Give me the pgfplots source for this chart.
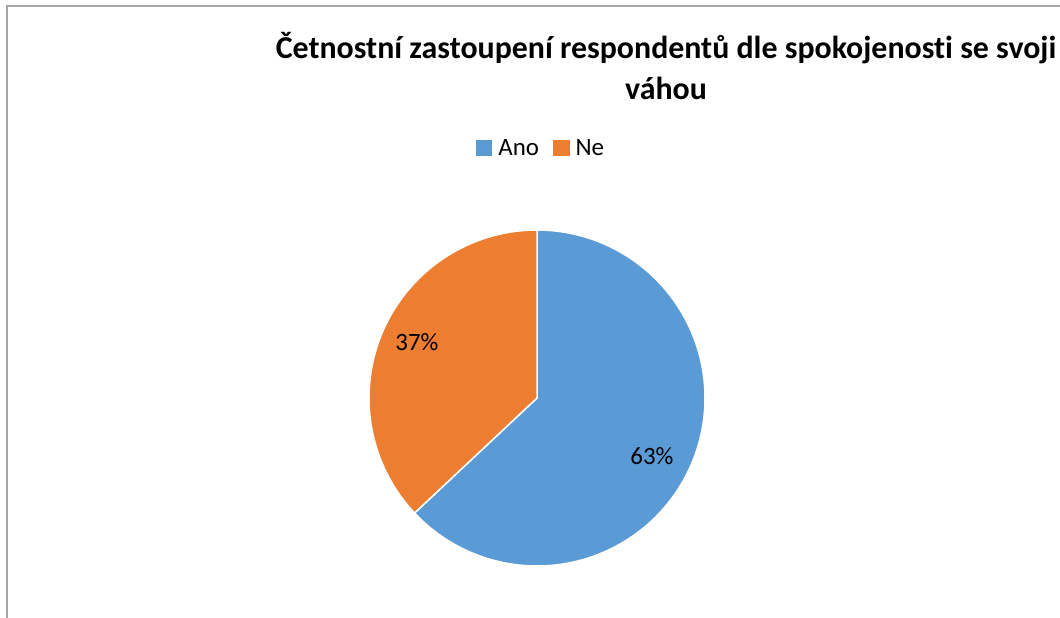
\documentclass[border=0pt]{standalone}
\usepackage{fontspec}
\setmainfont{Carlito}[Ligatures=NoCommon]
\usepackage{pgfplots}
\pgfplotsset{compat=1.18}
\definecolor{pieblue}{HTML}{5B9BD5}
\definecolor{pieorange}{HTML}{ED7D31}
\definecolor{framegray}{HTML}{A6A6A6}
% data (percent)
\def\valAno{63}
\def\valNe{37}
\begin{document}
\begin{tikzpicture}
\pgfmathsetmacro\angCut{90-3.6*(\valAno/(\valAno+\valNe))*100}
\pgfmathsetmacro\angEnd{\angCut+360}
\begin{axis}[
  scale only axis, width=1060bp, height=618bp,
  xmin=0, xmax=1060, ymin=0, ymax=618,
  hide axis, clip=false,
  legend style={at={(axis cs:541,470)}, anchor=center, draw=none, fill=none,
    legend columns=2, font=\fontsize{25}{29}\selectfont,
    /tikz/every even column/.append style={column sep=12bp},
    legend cell align=left},
]
\coordinate (bl) at (axis cs:0,0);
\coordinate (tr) at (axis cs:1060,618);
\draw[framegray, line width=1.5bp] (axis cs:7,0) -- (axis cs:7,612) -- (axis cs:1060,612);
\addplot[fill=pieblue, draw=white, line width=1.5bp, domain=\angCut:90, samples=150, variable=\t,
  legend image code/.code={\fill[pieblue] (0bp,-7.5bp) rectangle (15bp,7.5bp); \path (19bp,0bp);}]
  ({537+168*cos(\t)},{220+168*sin(\t)}) -- (axis cs:537,220) -- cycle;
\addlegendentry{Ano}
\addplot[fill=pieorange, draw=white, line width=1.5bp, domain=90:\angEnd, samples=120, variable=\t,
  legend image code/.code={\fill[pieorange] (0bp,-7.5bp) rectangle (15bp,7.5bp); \path (19bp,0bp);}]
  ({537+168*cos(\t)},{220+168*sin(\t)}) -- (axis cs:537,220) -- cycle;
\addlegendentry{Ne}
\node[font=\fontsize{25}{29}\selectfont] at (axis cs:652,162) {63\%};
\node[font=\fontsize{25}{29}\selectfont] at (axis cs:417,276) {37\%};
\node[font=\fontsize{32}{42}\bfseries\selectfont, align=center] at (axis cs:666,552)
  {Četnostní zastoupení respondentů dle spokojenosti se svoji\\váhou};
\end{axis}
\pgfresetboundingbox
\path (bl) rectangle (tr);
\end{tikzpicture}
\end{document}
